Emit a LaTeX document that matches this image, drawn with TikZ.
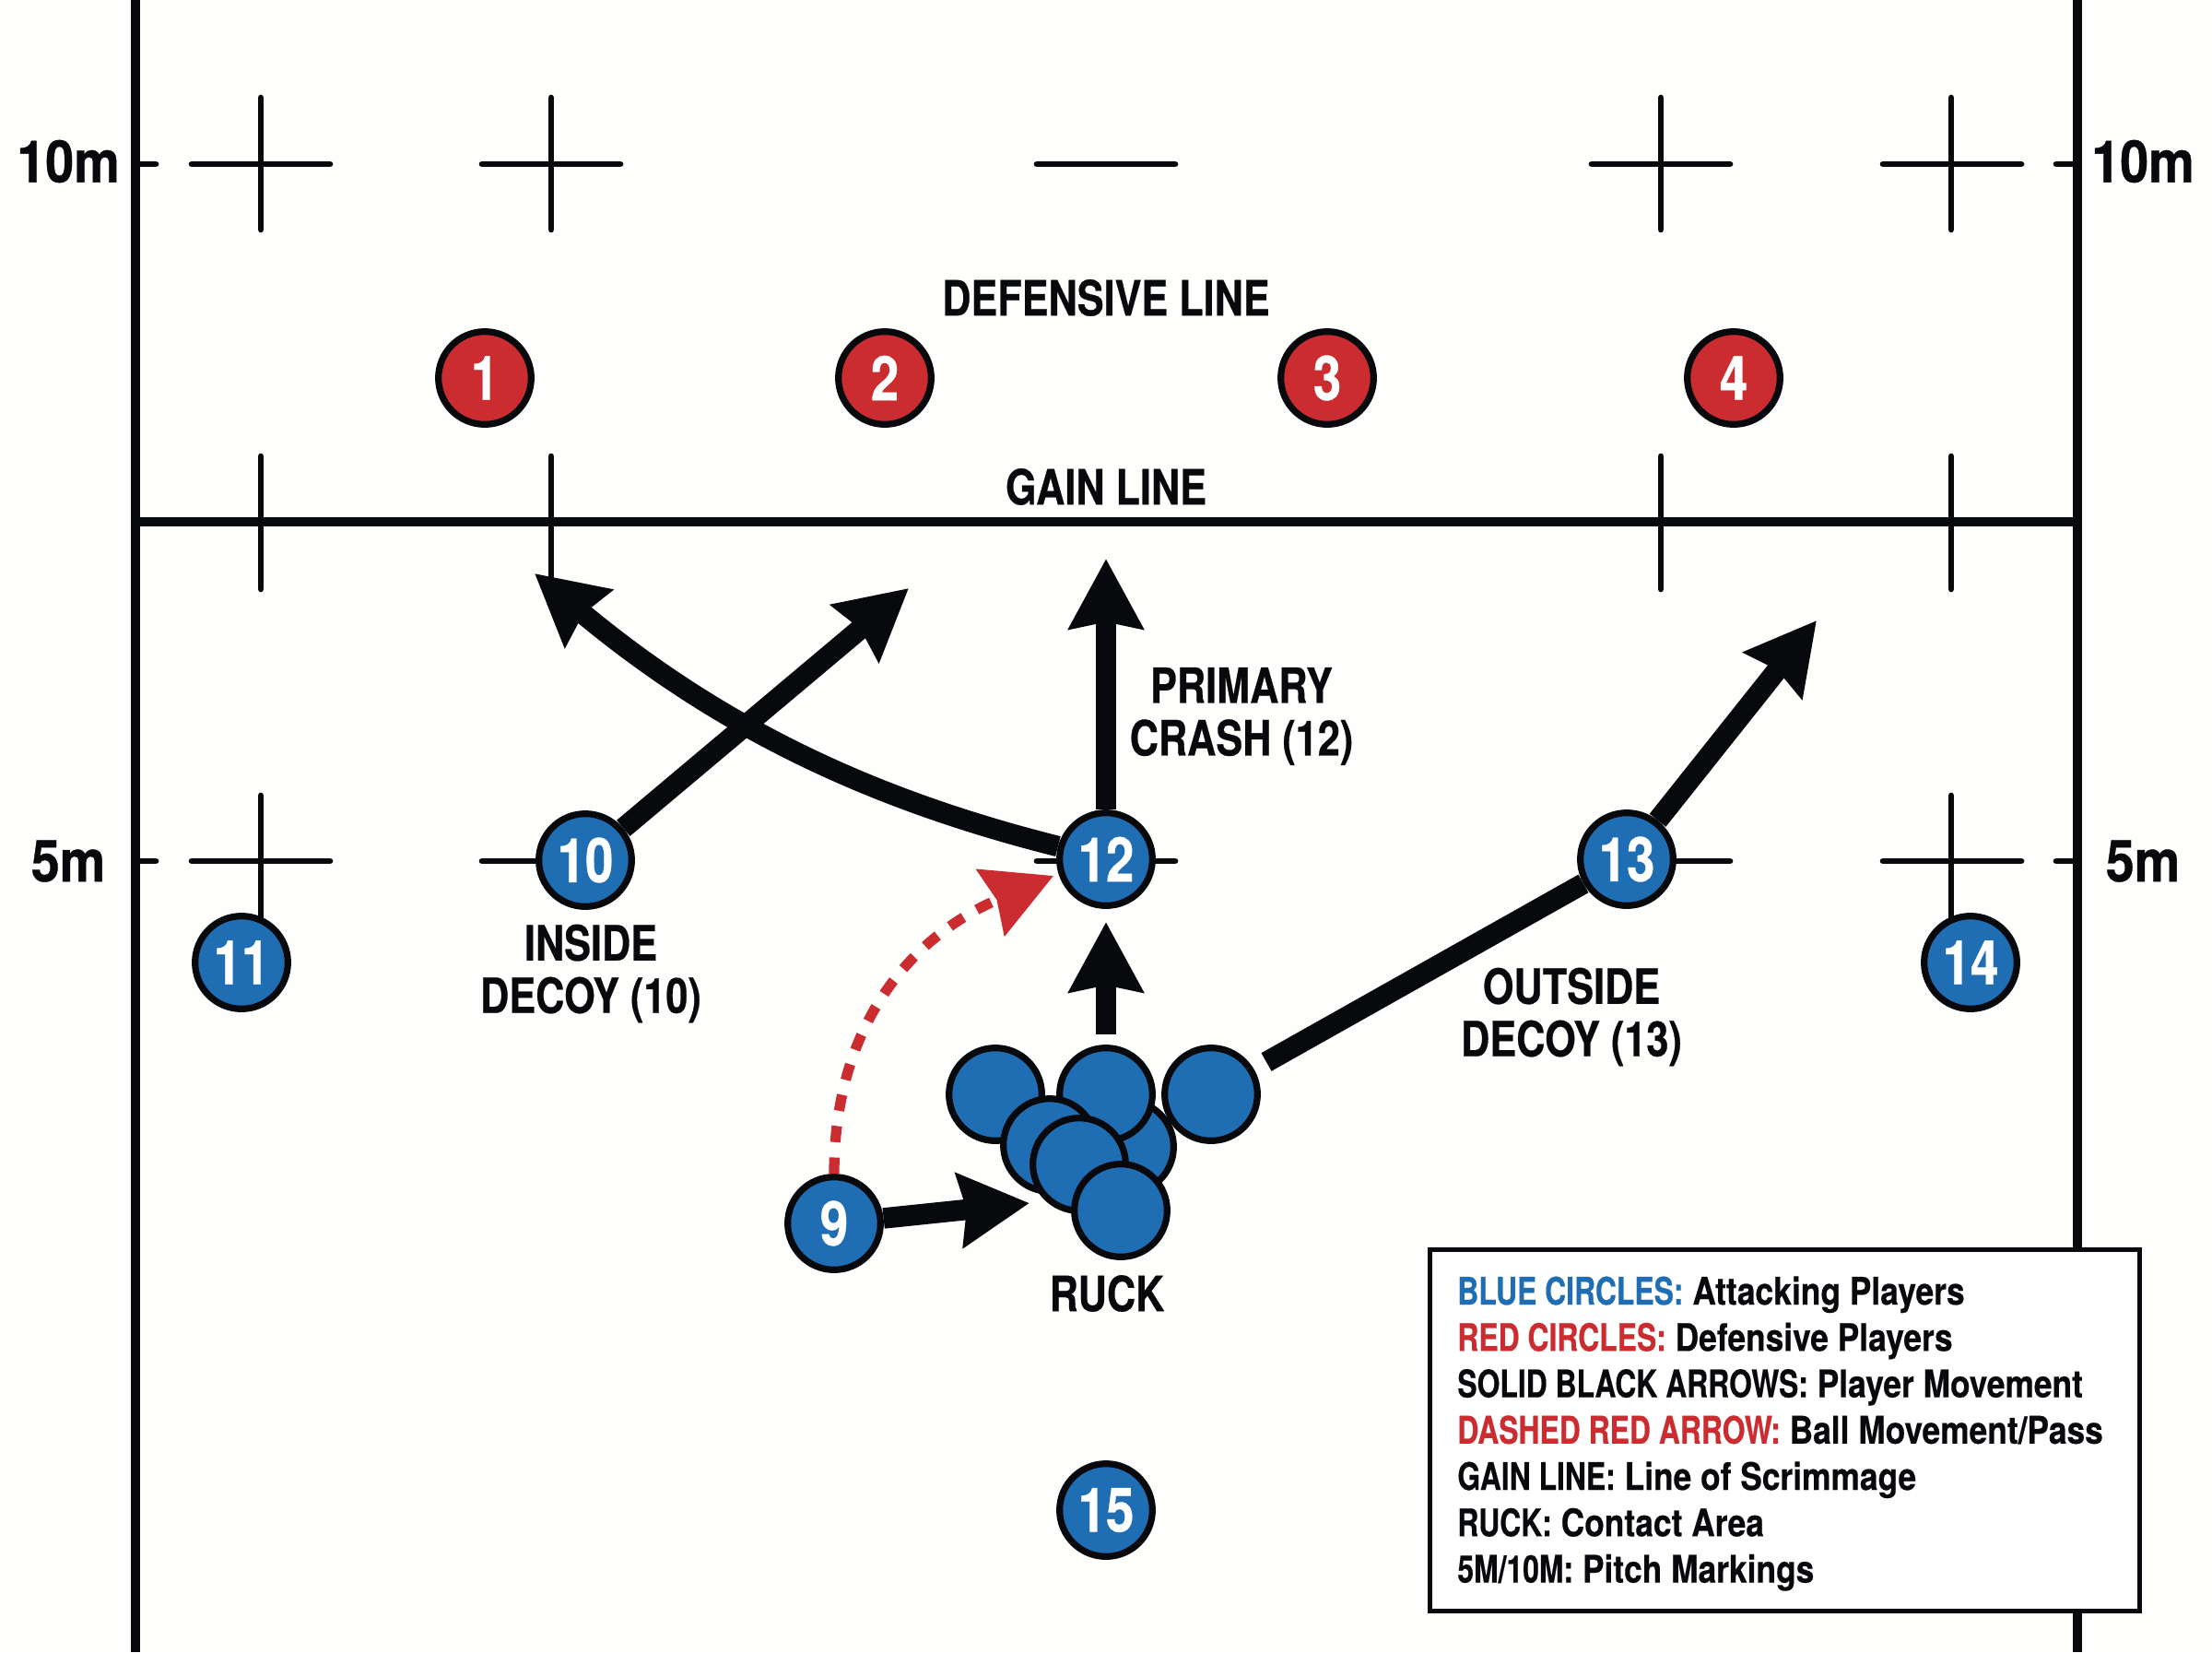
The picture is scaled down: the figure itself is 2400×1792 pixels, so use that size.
\documentclass[tikz,border=0pt]{standalone}
\usepackage{fontspec}
\usetikzlibrary{arrows.meta}
\newfontfamily\labfont[FakeStretch=0.82,FakeBold=0.5]{TeX Gyre Heros}
\newfontfamily\distfont[FakeStretch=0.88,FakeBold=0.6]{TeX Gyre Heros}
\newfontfamily\legfont[FakeStretch=0.856,FakeBold=0.4]{TeX Gyre Heros}
\newfontfamily\legcapfont[FakeStretch=0.772,FakeBold=0.4]{TeX Gyre Heros}
\newcommand{\legcaps}[1]{{\legcapfont\bfseries #1}}
\definecolor{pitchbg}{HTML}{FEFEFC}
\definecolor{teamblue}{HTML}{1F6DB3}
\definecolor{teamred}{HTML}{CA2C30}
\definecolor{ink}{HTML}{08090C}
\tikzset{
  x=0.02cm,y=-0.02cm,
  border line/.style={draw=ink,line width=5.6pt},
  gain stroke/.style={draw=ink,line width=6pt},
  mark stroke/.style={draw=ink,line width=3.8pt,line cap=round},
  player/.style={circle,draw=ink,line width=4.1pt,minimum size=57.3pt,inner sep=0pt,text=white,
    font=\labfont\bfseries\fontsize{38}{38}\selectfont},
  attacker/.style={player,fill=teamblue},
  defender/.style={player,fill=teamred},
  bigtip/.style={-{Stealth[length=43pt,width=45pt,inset=4pt]}},
  move/.style={draw=ink,line width=12.8pt,bigtip},
  runline/.style={draw=ink,line width=12.8pt},
  pass/.style={draw=teamred,line width=6.4pt,dash pattern=on 10pt off 9.5pt,
    -{Stealth[length=42pt,width=44pt,inset=4pt]}},
  lab/.style={inner sep=0pt,text=ink,align=center,
    font=\labfont\bfseries\fontsize{30}{32.4}\selectfont},
  dist/.style={inner sep=0pt,text=ink,font=\distfont\bfseries\fontsize{36}{36}\selectfont},
  legendbox/.style={draw=ink,line width=2.8pt,fill=white,inner sep=0pt},
  legendtext/.style={inner sep=0pt,text=ink,align=left,
    font=\legfont\bfseries\fontsize{23.5}{28.6}\selectfont},
}
\begin{document}
\begin{tikzpicture}
\useasboundingbox (0,0) rectangle (2400,1792);
\fill[pitchbg] (0,0) rectangle (2400,1792);
% pitch boundaries
\path[border line] (147,0) -- (147,1792);
\path[border line] (2254,0) -- (2254,1792);
% 10 m row
\path[mark stroke] (147,178) -- (169,178);
\path[mark stroke] (208,178) -- (358,178);
\path[mark stroke] (523,178) -- (673,178);
\path[mark stroke] (1125,178) -- (1275,178);
\path[mark stroke] (1727,178) -- (1877,178);
\path[mark stroke] (2043,178) -- (2193,178);
\path[mark stroke] (2231,178) -- (2254,178);
\path[mark stroke] (283,106) -- (283,249);
\path[mark stroke] (598,106) -- (598,249);
\path[mark stroke] (1802,106) -- (1802,249);
\path[mark stroke] (2117,106) -- (2117,249);
% gain line
\path[gain stroke] (147,566) -- (2254,566);
\path[mark stroke] (283,495) -- (283,639);
\path[mark stroke] (598,495) -- (598,639);
\path[mark stroke] (1802,495) -- (1802,639);
\path[mark stroke] (2117,495) -- (2117,639);
% 5 m row
\path[mark stroke] (147,934) -- (169,934);
\path[mark stroke] (208,934) -- (358,934);
\path[mark stroke] (523,934) -- (673,934);
\path[mark stroke] (1125,934) -- (1275,934);
\path[mark stroke] (1727,934) -- (1877,934);
\path[mark stroke] (2043,934) -- (2193,934);
\path[mark stroke] (2231,934) -- (2254,934);
\path[mark stroke] (283,863) -- (283,1000);
\path[mark stroke] (2117,863) -- (2117,1000);
% distance labels
\node[dist] (d10l) at (74,175) {10m};
\node[dist] (d10r) at (2325,175) {10m};
\node[dist] (d5l) at (74,934) {5m};
\node[dist] (d5r) at (2325,934) {5m};
% defenders
\node[defender] (p1) at (526,410) {1};
\node[defender] (p2) at (960,410) {2};
\node[defender] (p3) at (1440,410) {3};
\node[defender] (p4) at (1881,410) {4};
% attackers
\node[attacker] (p10) at (635,933) {10};
\node[attacker] (p12) at (1200,932) {12};
\node[attacker] (p13) at (1765,932) {13};
\node[attacker] (p11) at (262,1044) {11};
\node[attacker] (p14) at (2138,1044) {14};
\node[attacker] (p9) at (905,1327) {9};
\node[attacker] (p15) at (1200,1638) {15};
% ruck
\node[attacker] (r4) at (1223,1244) {};
\node[attacker] (r1) at (1080,1187) {};
\node[attacker] (r2) at (1200,1187) {};
\node[attacker] (r3) at (1314,1187) {};
\node[attacker] (r5) at (1139,1242) {};
\node[attacker] (r6) at (1171,1263) {};
\node[attacker] (r7) at (1216,1313) {};
% free ends
\coordinate (tip10) at (986,638);
\coordinate (tip12up) at (1200,606);
\coordinate (tip12left) at (580,622);
\coordinate (tip13) at (1971,673);
\coordinate (tip9) at (1117,1305);
\coordinate (ruckoutA) at (1200,1122);
\coordinate (ruckoutB) at (1200,1000);
\coordinate (rucksweep) at (1374,1152);
\coordinate (passend) at (1143,950);
% connectors
\draw[move] (p10) -- (tip10);
\draw[move] (p12) -- (tip12up);
\draw[move] (p12.165) .. controls (957,870) and (789,796) .. (tip12left);
\draw[move] (p13) -- (tip13);
\draw[move] (p9) -- (tip9);
\draw[move] (ruckoutA) -- (ruckoutB);
\draw[runline] (rucksweep) -- (p13);
\draw[pass] (p9.north) .. controls (905,1110) and (990,1015) .. (passend);
% labels
\node[lab] (ldef) at (1200,323) {DEFENSIVE LINE};
\node[lab] (lgain) at (1200,528) {GAIN LINE};
\node[lab] (lprim) at (1347,777) {PRIMARY\\CRASH (12)};
\node[lab] (lins) at (641,1056) {INSIDE\\DECOY (10)};
\node[lab] (lout) at (1705,1103) {OUTSIDE\\DECOY (13)};
\node[lab] (lruck) at (1201,1403) {RUCK};
% legend
\node[legendbox,minimum width=438pt,minimum height=223pt] (legend) at (1936.5,1551.5) {};
\node[legendtext,anchor=west] (legendtxt) at (1581,1555) {%
\textcolor{teamblue}{\legcaps{BLUE CIRCLES:}} Attacking Players\\
\textcolor{teamred}{\legcaps{RED CIRCLES:}} Defensive Players\\
\legcaps{SOLID BLACK ARROWS:} Player Movement\\
\textcolor{teamred}{\legcaps{DASHED RED ARROW:}} Ball Movement/Pass\\
\legcaps{GAIN LINE:} Line of Scrimmage\\
\legcaps{RUCK:} Contact Area\\
\legcaps{5M/10M:} Pitch Markings};
\end{tikzpicture}
\end{document}
